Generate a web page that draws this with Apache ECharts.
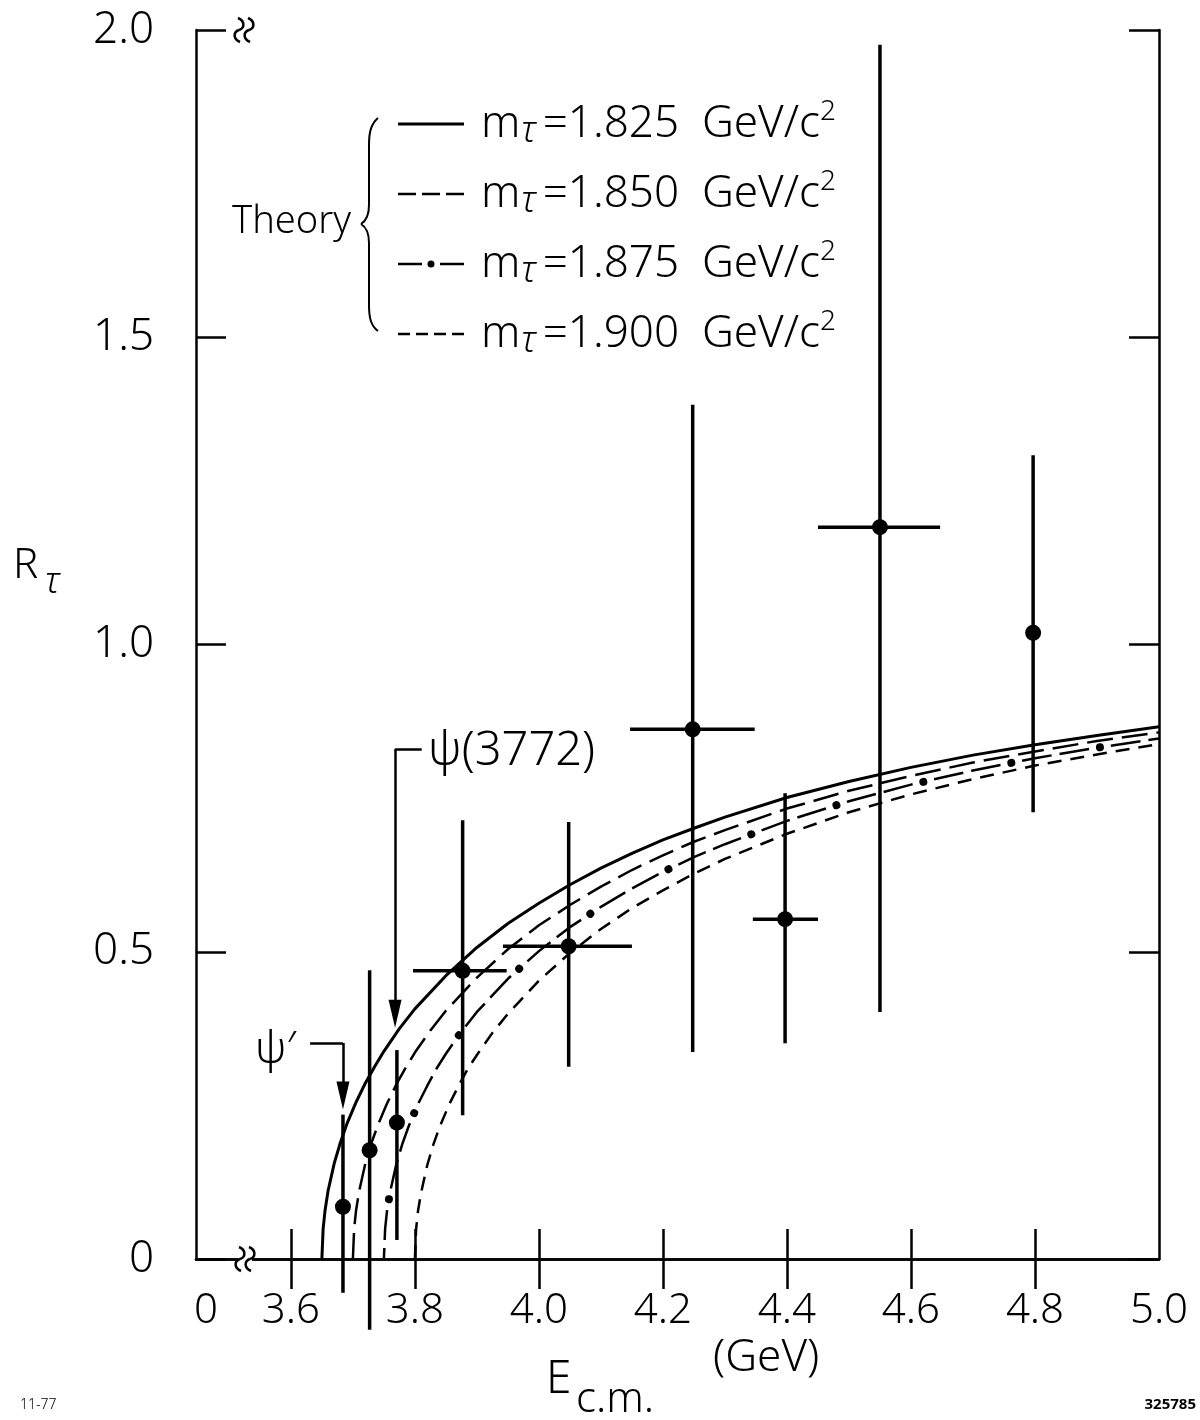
<!DOCTYPE html>
<html><head><meta charset="utf-8">
<script src="https://cdn.jsdelivr.net/npm/echarts@6/dist/echarts.min.js"></script>
<style>html,body{margin:0;padding:0;background:#fff}#c{width:1200px;height:1420px}</style>
</head><body><div id="c"></div>
<script>
const FONT = "'Noto Sans', 'DejaVu Sans', sans-serif";
const FW = 300;

// ---- axes ----
const xMin = 3.447, xMax = 5.0;
const xTickValues = [3.6, 3.8, 4.0, 4.2, 4.4, 4.6, 4.8];
const xLabelValues = [3.463, 3.6, 3.8, 4.0, 4.2, 4.4, 4.6, 4.8, 5.0];
const xLabelTexts = ['0', '3.6', '3.8', '4.0', '4.2', '4.4', '4.6', '4.8', '5.0'];
const yTickValues = [0, 0.5, 1.0, 1.5, 2.0];
const yLabelTexts = ['0', '0.5', '1.0', '1.5', '2.0'];

// ---- measured points (E, R_tau with error bars) ----
const ptE     = [3.684, 3.727, 3.771, 3.877, 4.048, 4.248, 4.397, 4.550, 4.797];
const ptR     = [0.085, 0.177, 0.222, 0.469, 0.509, 0.862, 0.553, 1.191, 1.019];
const ptELow  = [3.684, 3.727, 3.771, 3.797, 3.942, 4.147, 4.345, 4.450, 4.797];
const ptEHigh = [3.684, 3.727, 3.771, 3.948, 4.150, 4.348, 4.450, 4.647, 4.797];
const ptRLow  = [-0.055, -0.115, 0.031, 0.234, 0.313, 0.337, 0.351, 0.402, 0.727];
const ptRHigh = [0.235, 0.470, 0.340, 0.714, 0.711, 1.390, 0.758, 1.976, 1.308];

// ---- theory curves ----
const masses = ['1.825', '1.850', '1.875', '1.900'];
const th1825E = [3.650, 3.652, 3.655, 3.660, 3.670, 3.680, 3.690, 3.705, 3.720, 3.735, 3.750, 3.775, 3.800, 3.850, 3.900, 3.950, 4.000, 4.050, 4.100, 4.150, 4.200, 4.250, 4.300, 4.400, 4.500, 4.600, 4.700, 4.800, 4.900, 5.000];
const th1825R = [0, 0.049, 0.078, 0.111, 0.156, 0.190, 0.219, 0.255, 0.286, 0.313, 0.338, 0.375, 0.407, 0.461, 0.507, 0.546, 0.579, 0.609, 0.636, 0.660, 0.682, 0.701, 0.719, 0.751, 0.777, 0.800, 0.820, 0.837, 0.852, 0.866];
const th1850E = [3.700, 3.702, 3.705, 3.710, 3.720, 3.730, 3.740, 3.755, 3.770, 3.785, 3.800, 3.825, 3.850, 3.900, 3.950, 4.000, 4.050, 4.100, 4.150, 4.200, 4.250, 4.300, 4.400, 4.500, 4.600, 4.700, 4.800, 4.900, 5.000];
const th1850R = [0, 0.049, 0.078, 0.110, 0.155, 0.189, 0.217, 0.253, 0.284, 0.311, 0.336, 0.372, 0.404, 0.458, 0.504, 0.543, 0.576, 0.606, 0.633, 0.657, 0.679, 0.698, 0.733, 0.762, 0.786, 0.808, 0.826, 0.843, 0.857];
const th1875E = [3.750, 3.752, 3.755, 3.760, 3.770, 3.780, 3.790, 3.805, 3.820, 3.835, 3.850, 3.875, 3.900, 3.950, 4.000, 4.050, 4.100, 4.150, 4.200, 4.250, 4.300, 4.400, 4.500, 4.600, 4.700, 4.800, 4.900, 5.000];
const th1875R = [0, 0.049, 0.078, 0.109, 0.154, 0.188, 0.216, 0.252, 0.282, 0.310, 0.334, 0.370, 0.402, 0.456, 0.501, 0.540, 0.573, 0.603, 0.630, 0.654, 0.675, 0.713, 0.745, 0.772, 0.795, 0.815, 0.832, 0.847];
const th1900E = [3.800, 3.802, 3.805, 3.810, 3.820, 3.830, 3.840, 3.855, 3.870, 3.885, 3.900, 3.925, 3.950, 4.000, 4.050, 4.100, 4.150, 4.200, 4.250, 4.300, 4.400, 4.500, 4.600, 4.700, 4.800, 4.900, 5.000];
const th1900R = [0, 0.049, 0.078, 0.108, 0.153, 0.187, 0.215, 0.251, 0.281, 0.309, 0.332, 0.368, 0.399, 0.453, 0.498, 0.537, 0.571, 0.600, 0.627, 0.651, 0.692, 0.727, 0.756, 0.781, 0.803, 0.821, 0.838];

// ---- resonance markers ----
const psiPrimeE = 3.684, psiPrimeTop = 0.3515, psiPrimeTip = 0.266, psiPrimeFrom = 3.631;
const psi3772E = 3.768, psi3772Top = 0.830, psi3772Tip = 0.399, psi3772To = 3.811;

const zip = (a, b) => a.map((v, i) => [v, b[i]]);
const pts = ptE.map((e, i) => [e, ptR[i], ptELow[i], ptEHigh[i], ptRLow[i], ptRHigh[i]]);

const chart = echarts.init(document.getElementById('c'), null, {renderer: 'canvas'});

const axisLine = {show: true, lineStyle: {color: '#000', width: 2.5}};
const tickStyle = {color: '#000', width: 2.5};
const thin = {fill: 'none', stroke: '#000', lineWidth: 2};
const brkStyle = {fill: 'none', stroke: '#000', lineWidth: 2.5};

function bz(x1, y1, c1x, c1y, c2x, c2y, x2, y2, st) {
  return {type: 'bezierCurve', z: 100, shape: {x1: x1, y1: y1, cpx1: c1x, cpy1: c1y, cpx2: c2x, cpy2: c2y, x2: x2, y2: y2}, style: st || thin};
}
function ln(x1, y1, x2, y2) {
  return {type: 'line', z: 100, shape: {x1: x1, y1: y1, x2: x2, y2: y2}, style: thin};
}
function brk(cx, cy) {
  return {
    type: 'group', x: cx, y: cy, z: 100,
    children: [
      {type: 'rect', z: 100, shape: {x: -7, y: -4, width: 14, height: 8}, style: {fill: '#fff'}},
      bz(-6, -12, 1, -9, 1, -2, -5, 0, brkStyle), bz(-5, 0, -11, 2, -11, 9, -4, 12, brkStyle),
      bz(4, -12, 11, -9, 11, -2, 5, 0, brkStyle), bz(5, 0, -1, 2, -1, 9, 6, 12, brkStyle)
    ]
  };
}
function txt(x, y, text, size, extra) {
  return Object.assign({type: 'text', x: x, y: y, z: 100,
    style: Object.assign({text: text, fontSize: size, fontFamily: FONT, fontWeight: FW, fill: '#000', align: 'left', verticalAlign: 'middle'}, extra || {})});
}

const legendIcons = {
  '1.825': 'path://M0,0L66,0L66,3L0,3Z',
  '1.850': 'path://M0,0L18,0L18,2.5L0,2.5Z M24,0L42,0L42,2.5L24,2.5Z M48,0L66,0L66,2.5L48,2.5Z',
  '1.875': 'path://M0,2.5L24,2.5L24,5L0,5Z M42,2.5L66,2.5L66,5L42,5Z M29.5,3.75A3.5,3.5,0,1,0,36.5,3.75A3.5,3.5,0,1,0,29.5,3.75Z',
  '1.900': 'path://M0,0L12,0L12,2.5L0,2.5Z M18,0L30,0L30,2.5L18,2.5Z M36,0L48,0L48,2.5L36,2.5Z M54,0L66,0L66,2.5L54,2.5Z'
};

const option = {
  animation: false,
  backgroundColor: '#fff',
  grid: {left: 196, right: 41, top: 30, bottom: 161, containLabel: false},
  legend: {
    orient: 'vertical', left: 393, top: 93, itemWidth: 66, itemHeight: 8, itemGap: 18,
    selectedMode: false,
    itemStyle: {color: '#000', borderWidth: 0},
    data: masses.map(m => ({name: m, icon: legendIcons[m]})),
    formatter: name => '{m|m}{t|τ}{e|=' + name + '  GeV/c}{s|2}',
    textStyle: {
      color: '#000', fontFamily: FONT, fontWeight: FW,
      rich: {
        m: {fontSize: 44, lineHeight: 52, fontFamily: FONT, fontWeight: FW, padding: [0, 0, 0, 12]},
        t: {fontSize: 36, lineHeight: 30, fontFamily: FONT, fontWeight: FW, fontStyle: 'italic', verticalAlign: 'bottom', padding: [0, 7, 0, 1]},
        e: {fontSize: 44, lineHeight: 52, fontFamily: FONT, fontWeight: FW},
        s: {fontSize: 28, lineHeight: 20, fontFamily: FONT, fontWeight: FW, verticalAlign: 'top'}
      }
    }
  },
  xAxis: [{
    type: 'value', position: 'bottom', min: xMin, max: xMax,
    axisLine: axisLine,
    axisTick: {show: true, inside: true, length: 30, customValues: xTickValues, lineStyle: tickStyle},
    axisLabel: {
      show: true, customValues: xLabelValues, margin: 31, color: '#000', fontSize: 42, fontFamily: FONT, fontWeight: FW,
      formatter: v => { const i = xLabelValues.findIndex(u => Math.abs(u - v) < 1e-6); return i >= 0 ? xLabelTexts[i] : ''; }
    },
    splitLine: {show: false}
  }, {
    type: 'value', position: 'top', min: xMin, max: xMax,
    axisLine: axisLine,
    axisTick: {show: true, inside: true, length: 30, customValues: xTickValues, lineStyle: tickStyle},
    axisLabel: {show: false}, splitLine: {show: false}
  }],
  yAxis: [{
    type: 'value', position: 'left', min: 0, max: 2, interval: 0.5,
    axisLine: axisLine,
    axisTick: {show: true, inside: true, length: 30, lineStyle: tickStyle},
    axisLabel: {
      show: true, margin: 42, color: '#000', fontSize: 44, fontFamily: FONT, fontWeight: FW,
      formatter: v => { const i = yTickValues.findIndex(u => Math.abs(u - v) < 1e-6); return i >= 0 ? yLabelTexts[i] : ''; }
    },
    splitLine: {show: false}
  }, {
    type: 'value', position: 'right', min: 0, max: 2, interval: 0.5,
    axisLine: axisLine,
    axisTick: {show: true, inside: true, length: 30, lineStyle: tickStyle},
    axisLabel: {show: false}, splitLine: {show: false}
  }],
  series: [
    {name: '1.825', type: 'line', data: zip(th1825E, th1825R), symbol: 'none', smooth: false,
     lineStyle: {color: '#000', width: 3, type: 'solid', join: 'round'}, color: '#000', z: 3},
    {name: '1.850', type: 'line', data: zip(th1850E, th1850R), symbol: 'none', smooth: false,
     lineStyle: {color: '#000', width: 2.5, type: [26, 9]}, color: '#000', z: 3},
    {name: '1.875', type: 'line', data: zip(th1875E, th1875R), symbol: 'none', smooth: false,
     lineStyle: {color: '#000', width: 2.5, type: [30, 8, 30, 22], dashOffset: 19}, color: '#000', z: 3},
    {name: '1.875 dots', type: 'line', data: zip(th1875E, th1875R), symbol: 'none', smooth: false,
     lineStyle: {color: '#000', width: 8, type: [0.01, 89.99], dashOffset: 30, cap: 'round'}, color: '#000', z: 3},
    {name: '1.900', type: 'line', data: zip(th1900E, th1900R), symbol: 'none', smooth: false,
     lineStyle: {color: '#000', width: 2.5, type: [14, 9]}, color: '#000', z: 3},
    {
      name: 'errors', type: 'custom', data: pts, encode: {x: 0, y: 1}, z: 4, clip: false,
      renderItem: function (params, api) {
        const x = api.value(0), y = api.value(1);
        const vl = api.coord([x, api.value(4)]), vh = api.coord([x, api.value(5)]);
        const hl = api.coord([api.value(2), y]), hh = api.coord([api.value(3), y]);
        const st = {stroke: '#000', lineWidth: 3.5};
        const ch = [{type: 'line', shape: {x1: vl[0], y1: vl[1], x2: vh[0], y2: vh[1]}, style: st}];
        if (hh[0] - hl[0] > 1) ch.push({type: 'line', shape: {x1: hl[0], y1: hl[1], x2: hh[0], y2: hh[1]}, style: st});
        return {type: 'group', children: ch};
      },
      markLine: {
        silent: true, symbol: ['none', 'none'], label: {show: false},
        lineStyle: {color: '#000', width: 2.5, type: 'solid', opacity: 1},
        data: [
          [{coord: [psiPrimeFrom, psiPrimeTop]}, {coord: [psiPrimeE, psiPrimeTop]}],
          [{coord: [psiPrimeE, psiPrimeTop]}, {coord: [psiPrimeE, psiPrimeTip], symbol: 'triangle', symbolSize: [13, 28], symbolRotate: 180}],
          [{coord: [psi3772E, psi3772Top]}, {coord: [psi3772To, psi3772Top]}],
          [{coord: [psi3772E, psi3772Top]}, {coord: [psi3772E, psi3772Tip], symbol: 'triangle', symbolSize: [13, 28], symbolRotate: 180}]
        ]
      }
    },
    {name: 'data', type: 'scatter', data: zip(ptE, ptR), symbol: 'circle', symbolSize: 16,
     itemStyle: {color: '#000', opacity: 1}, z: 5}
  ],
  graphic: [
    brk(244, 30), brk(245, 1259),
    txt(232, 222, 'Theory', 38),
    bz(378, 118, 371, 124, 369, 132, 369, 145),
    ln(369, 145, 369, 205),
    bz(369, 205, 369, 216, 366, 221, 361, 224),
    bz(361, 224, 366, 227, 369, 232, 369, 243),
    ln(369, 243, 369, 305),
    bz(369, 305, 369, 318, 371, 326, 378, 331),
    txt(255, 1050, 'ψ′', 44),
    txt(428, 752, 'ψ(3772)', 47),
    txt(13, 566, 'R', 42),
    txt(45, 583, 'τ', 36, {fontStyle: 'italic'}),
    txt(546, 1380, 'E', 46),
    txt(576, 1400, 'c.m.', 42),
    txt(713, 1358, '(GeV)', 44),
    txt(20, 1405, '11-77', 14),
    txt(1196, 1405, '325785', 15, {align: 'right', fontWeight: 'bold'})
  ]
};
chart.setOption(option);
</script>
</body></html>
